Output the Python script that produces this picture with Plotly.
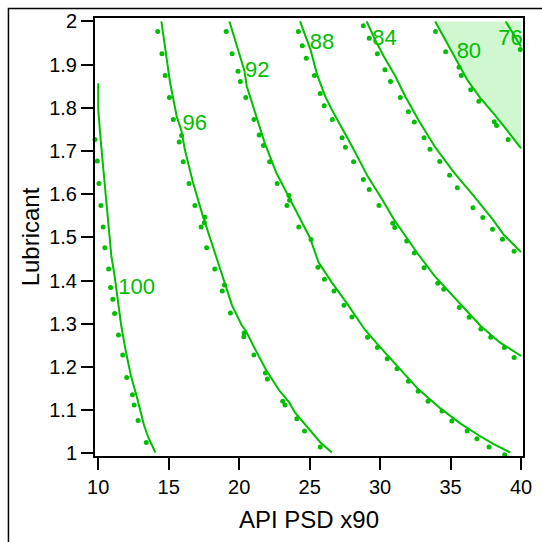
import plotly.graph_objects as go

# ---- contour levels and label positions ----
levels = ["100", "96", "92", "88", "84", "80", "76"]
label_x = [12.72, 16.84, 21.29, 25.87, 30.32, 36.30, 39.26]
label_y = [1.381, 1.761, 1.885, 1.950, 1.958, 1.927, 1.958]

# ---- solid contour lines ----
line100_x = [10.00, 10.00, 10.19, 10.42, 10.65, 10.81, 10.93, 11.16, 11.39, 11.63, 11.97, 12.32, 12.78, 13.25, 13.59, 14.06]
line100_y = [1.857, 1.796, 1.719, 1.642, 1.565, 1.505, 1.457, 1.411, 1.349, 1.296, 1.234, 1.180, 1.126, 1.065, 1.034, 1.002]

line96_x = [14.48, 14.75, 15.10, 15.56, 15.91, 16.14, 16.72, 17.42, 17.88, 18.34, 18.92, 19.50, 20.19, 20.47, 21.12, 21.93, 22.86, 23.55, 23.95, 25.01, 25.75, 26.57]
line96_y = [2.000, 1.935, 1.858, 1.781, 1.746, 1.704, 1.627, 1.550, 1.505, 1.457, 1.403, 1.342, 1.296, 1.284, 1.242, 1.192, 1.145, 1.118, 1.095, 1.055, 1.026, 1.002]

line92_x = [19.31, 19.97, 20.38, 20.54, 21.12, 21.81, 22.63, 23.55, 24.25, 25.01, 25.64, 26.57, 27.61, 28.88, 29.92, 31.20, 32.70, 34.32, 35.71, 36.99, 38.03, 39.24]
line92_y = [2.000, 1.927, 1.885, 1.850, 1.788, 1.719, 1.650, 1.592, 1.550, 1.500, 1.442, 1.396, 1.349, 1.288, 1.249, 1.203, 1.149, 1.103, 1.069, 1.042, 1.022, 1.002]

line88_x = [24.32, 25.06, 25.53, 26.10, 26.57, 27.37, 28.07, 29.11, 30.15, 30.97, 31.78, 32.70, 33.86, 35.25, 37.10, 38.49, 40.00]
line88_y = [2.000, 1.935, 1.877, 1.827, 1.796, 1.750, 1.707, 1.642, 1.588, 1.542, 1.505, 1.461, 1.411, 1.361, 1.296, 1.257, 1.226]

line84_x = [29.05, 29.70, 30.27, 31.08, 31.78, 32.70, 33.86, 35.25, 36.64, 38.03, 38.75, 40.00]
line84_y = [2.000, 1.954, 1.919, 1.873, 1.827, 1.773, 1.711, 1.650, 1.596, 1.540, 1.507, 1.466]

line80_x = [33.91, 34.67, 35.48, 36.18, 37.10, 38.03, 38.96, 40.00]
line80_y = [2.000, 1.954, 1.904, 1.865, 1.823, 1.788, 1.750, 1.706]

line76_x = [38.91, 40.00]
line76_y = [2.000, 1.942]

# ---- dotted (second model) contour points ----
dots100_x = [9.61, 9.61, 9.64, 9.77, 9.93, 10.05, 10.19, 10.35, 10.47, 10.74, 10.88, 11.04, 11.16, 11.44, 11.74, 12.02, 12.43, 12.55, 12.83, 13.41]
dots100_y = [1.852, 1.823, 1.773, 1.727, 1.677, 1.625, 1.574, 1.524, 1.476, 1.427, 1.384, 1.357, 1.324, 1.274, 1.228, 1.176, 1.136, 1.112, 1.076, 1.025]

dots96_x = [14.22, 14.52, 14.75, 15.05, 15.33, 15.91, 15.75, 16.03, 16.44, 16.86, 17.57, 17.53, 17.30, 17.69, 18.27, 18.96, 18.80, 19.38, 20.35, 20.33, 21.05, 21.86, 22.00, 23.09, 23.25, 24.09, 24.64, 25.75, 26.45]
dots96_y = [1.977, 1.925, 1.875, 1.824, 1.773, 1.736, 1.721, 1.675, 1.625, 1.574, 1.547, 1.534, 1.524, 1.476, 1.427, 1.390, 1.376, 1.325, 1.279, 1.270, 1.228, 1.186, 1.172, 1.121, 1.112, 1.080, 1.052, 1.015, 0.991]

dots92_x = [19.08, 19.50, 19.92, 20.08, 20.47, 21.05, 21.42, 21.72, 22.16, 22.70, 23.53, 23.58, 23.39, 24.23, 25.10, 25.59, 26.05, 26.73, 27.44, 28.00, 29.11, 29.81, 30.50, 31.20, 32.01, 32.70, 33.40, 34.39, 35.09, 36.18, 36.87, 37.73, 38.84]
dots92_y = [1.977, 1.925, 1.885, 1.861, 1.824, 1.773, 1.737, 1.713, 1.675, 1.625, 1.597, 1.586, 1.574, 1.524, 1.495, 1.431, 1.403, 1.376, 1.343, 1.316, 1.269, 1.245, 1.219, 1.196, 1.167, 1.144, 1.121, 1.098, 1.075, 1.052, 1.034, 1.015, 0.997]

dots88_x = [24.20, 24.48, 24.76, 25.34, 25.75, 26.03, 26.61, 27.30, 27.54, 28.12, 28.81, 29.23, 29.92, 30.90, 31.04, 31.89, 32.43, 33.12, 34.09, 34.51, 35.62, 36.32, 37.15, 37.85, 38.82, 39.51]
dots88_y = [1.977, 1.944, 1.915, 1.875, 1.833, 1.805, 1.773, 1.731, 1.709, 1.675, 1.634, 1.611, 1.574, 1.533, 1.523, 1.492, 1.464, 1.430, 1.394, 1.380, 1.338, 1.315, 1.288, 1.269, 1.245, 1.222]

dots84_x = [28.81, 29.23, 29.81, 30.34, 30.74, 31.43, 32.01, 32.43, 33.12, 33.54, 34.23, 34.93, 35.48, 36.59, 37.29, 37.98, 38.68, 39.51]
dots84_y = [1.990, 1.961, 1.925, 1.888, 1.861, 1.824, 1.791, 1.767, 1.731, 1.704, 1.676, 1.644, 1.615, 1.569, 1.546, 1.519, 1.496, 1.468]

dots80_x = [33.93, 34.65, 35.60, 35.76, 36.43, 37.01, 38.10, 38.26, 39.09]
dots80_y = [1.977, 1.930, 1.894, 1.875, 1.842, 1.815, 1.768, 1.759, 1.727]

dots76_x = [39.95]
dots76_y = [1.935]

x_ticks = [10, 15, 20, 25, 30, 35, 40]
y_ticks = [1, 1.1, 1.2, 1.3, 1.4, 1.5, 1.6, 1.7, 1.8, 1.9, 2]
y_ticktext = ["1", "1.1", "1.2", "1.3", "1.4", "1.5", "1.6", "1.7", "1.8", "1.9", "2"]

GREEN = "rgb(0,190,0)"
SHADE = "rgb(208,247,208)"
FONT = "Liberation Sans, Arial, sans-serif"

fig = go.Figure()

# shaded region above the 80 contour
fig.add_trace(go.Scatter(
    x=line80_x + [line80_x[-1], line80_x[0]],
    y=line80_y + [line80_y[0], line80_y[0]],
    mode="none", fill="toself", fillcolor=SHADE, hoverinfo="skip", showlegend=False))

lines = [(line100_x, line100_y), (line96_x, line96_y), (line92_x, line92_y),
         (line88_x, line88_y), (line84_x, line84_y), (line80_x, line80_y),
         (line76_x, line76_y)]
dots = [(dots100_x, dots100_y), (dots96_x, dots96_y), (dots92_x, dots92_y),
        (dots88_x, dots88_y), (dots84_x, dots84_y), (dots80_x, dots80_y),
        (dots76_x, dots76_y)]

for lx, ly in lines:
    fig.add_trace(go.Scatter(x=lx, y=ly, mode="lines",
                             line=dict(color=GREEN, width=2),
                             showlegend=False, hoverinfo="skip"))
for dx, dy in dots:
    fig.add_trace(go.Scatter(x=dx, y=dy, mode="markers",
                             marker=dict(color=GREEN, size=5, line=dict(width=0)),
                             cliponaxis=False, showlegend=False, hoverinfo="skip"))

fig.add_trace(go.Scatter(x=label_x, y=label_y, mode="text", text=levels,
                         textfont=dict(color=GREEN, size=22, family=FONT),
                         showlegend=False, hoverinfo="skip"))

fig.update_layout(
    width=542, height=542,
    margin=dict(l=95, r=10, t=16, b=86),
    paper_bgcolor="white", plot_bgcolor="white",
    font=dict(family=FONT, size=20, color="black"),
    xaxis=dict(range=[9.77, 40.14], tickvals=x_ticks,
               showgrid=False, zeroline=False, showline=True, linecolor="black",
               linewidth=2, mirror=True, ticks="outside", ticklen=12, tickwidth=2,
               tickcolor="black",
               title=dict(text="API PSD x90", standoff=14)),
    yaxis=dict(range=[0.994, 2.008], tickvals=y_ticks, ticktext=y_ticktext,
               showgrid=False, zeroline=False, showline=True, linecolor="black",
               linewidth=2, mirror=True, ticks="outside", ticklen=12, tickwidth=2,
               tickcolor="black",
               title=dict(text="Lubricant", standoff=3)),
)

# outer frame (only left and top edges fall inside the picture)
fig.add_shape(type="rect", xref="paper", yref="paper",
              x0=-0.2022, y0=-0.6, x1=1.6, y1=1.0216,
              line=dict(color="black", width=1.5), fillcolor="rgba(0,0,0,0)", layer="below")

fig.write_html("out.html",
               config={"displayModeBar": False},
               post_script="document.body.style.margin='0';document.body.style.padding='0';")
